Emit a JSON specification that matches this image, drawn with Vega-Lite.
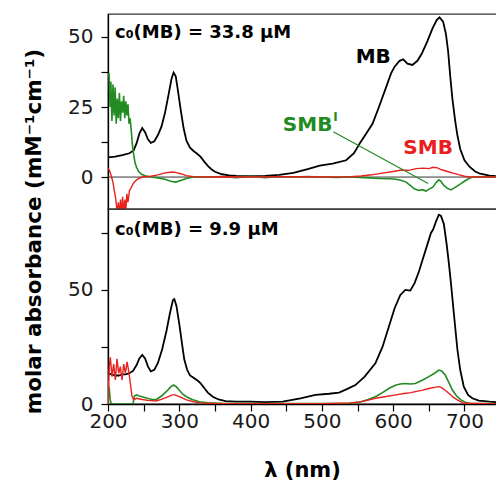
{
  "$schema": "https://vega.github.io/schema/vega-lite/v6.json",
  "autosize": "none",
  "padding": {"left": 108, "top": 14, "right": 388, "bottom": 468},
  "background": "white",
  "spacing": 0,
  "bounds": "flush",
  "config": {
    "view": {"stroke": "#333333", "strokeWidth": 1.3},
    "axis": {
      "domainColor": "#000000", "domainWidth": 1.3, "tickColor": "#000000", "tickWidth": 1.2,
      "labelFont": "DejaVu Sans", "labelFontSize": 20, "labelColor": "#1a1a1a",
      "titleFont": "DejaVu Sans", "titleFontWeight": "bold", "titleColor": "#000000", "grid": false
    }
  },
  "datasets": {
    "top": [
      {"wl":200,"v":7.0,"s":"MB"},{"wl":210,"v":7.3,"s":"MB"},{"wl":220,"v":7.8,"s":"MB"},{"wl":230,"v":8.5,"s":"MB"},{"wl":236,"v":9.5,"s":"MB"},{"wl":240,"v":12,"s":"MB"},{"wl":244,"v":15.5,"s":"MB"},{"wl":248,"v":17.5,"s":"MB"},{"wl":252,"v":16,"s":"MB"},{"wl":256,"v":13.5,"s":"MB"},{"wl":260,"v":12.2,"s":"MB"},{"wl":265,"v":12.8,"s":"MB"},{"wl":270,"v":15,"s":"MB"},{"wl":275,"v":18,"s":"MB"},{"wl":280,"v":23,"s":"MB"},{"wl":285,"v":29.5,"s":"MB"},{"wl":289,"v":35,"s":"MB"},{"wl":292,"v":37.3,"s":"MB"},{"wl":295,"v":36,"s":"MB"},{"wl":298,"v":31,"s":"MB"},{"wl":302,"v":24,"s":"MB"},{"wl":306,"v":17.5,"s":"MB"},{"wl":310,"v":13,"s":"MB"},{"wl":315,"v":10.5,"s":"MB"},{"wl":320,"v":9.3,"s":"MB"},{"wl":325,"v":8.3,"s":"MB"},{"wl":330,"v":7.2,"s":"MB"},{"wl":335,"v":5.5,"s":"MB"},{"wl":340,"v":4,"s":"MB"},{"wl":345,"v":2.8,"s":"MB"},{"wl":350,"v":1.9,"s":"MB"},{"wl":360,"v":1,"s":"MB"},{"wl":370,"v":0.6,"s":"MB"},{"wl":380,"v":0.4,"s":"MB"},{"wl":400,"v":0.3,"s":"MB"},{"wl":420,"v":0.4,"s":"MB"},{"wl":440,"v":0.8,"s":"MB"},{"wl":460,"v":1.5,"s":"MB"},{"wl":480,"v":2.8,"s":"MB"},{"wl":497,"v":4.1,"s":"MB"},{"wl":515,"v":4.8,"s":"MB"},{"wl":534,"v":6,"s":"MB"},{"wl":545,"v":8.5,"s":"MB"},{"wl":553,"v":12,"s":"MB"},{"wl":562,"v":15.5,"s":"MB"},{"wl":571,"v":19,"s":"MB"},{"wl":580,"v":25,"s":"MB"},{"wl":590,"v":32,"s":"MB"},{"wl":597,"v":37,"s":"MB"},{"wl":602,"v":39.4,"s":"MB"},{"wl":609,"v":41.5,"s":"MB"},{"wl":614,"v":42,"s":"MB"},{"wl":620,"v":40.5,"s":"MB"},{"wl":627,"v":40,"s":"MB"},{"wl":634,"v":41.5,"s":"MB"},{"wl":640,"v":44,"s":"MB"},{"wl":648,"v":48.5,"s":"MB"},{"wl":655,"v":53,"s":"MB"},{"wl":661,"v":56,"s":"MB"},{"wl":665,"v":57,"s":"MB"},{"wl":670,"v":55.5,"s":"MB"},{"wl":674,"v":51,"s":"MB"},{"wl":677,"v":45,"s":"MB"},{"wl":680,"v":36,"s":"MB"},{"wl":683,"v":28,"s":"MB"},{"wl":687,"v":20,"s":"MB"},{"wl":690,"v":15,"s":"MB"},{"wl":694,"v":10,"s":"MB"},{"wl":700,"v":6,"s":"MB"},{"wl":707,"v":3.7,"s":"MB"},{"wl":715,"v":2,"s":"MB"},{"wl":722,"v":1.2,"s":"MB"},{"wl":735,"v":0.5,"s":"MB"},{"wl":747,"v":0.3,"s":"MB"},

      {"wl":200,"v":36,"s":"SMBI"},{"wl":201.5,"v":37,"s":"SMBI"},{"wl":203,"v":25,"s":"SMBI"},{"wl":204,"v":34,"s":"SMBI"},{"wl":205.5,"v":20,"s":"SMBI"},{"wl":207,"v":33,"s":"SMBI"},{"wl":208.5,"v":22,"s":"SMBI"},{"wl":210,"v":32,"s":"SMBI"},{"wl":211.5,"v":19,"s":"SMBI"},{"wl":213,"v":28,"s":"SMBI"},{"wl":214.5,"v":21,"s":"SMBI"},{"wl":216,"v":30,"s":"SMBI"},{"wl":217.5,"v":20,"s":"SMBI"},{"wl":219,"v":27,"s":"SMBI"},{"wl":220.5,"v":23,"s":"SMBI"},{"wl":222,"v":29,"s":"SMBI"},{"wl":223.5,"v":21,"s":"SMBI"},{"wl":225,"v":27,"s":"SMBI"},{"wl":226.5,"v":22,"s":"SMBI"},{"wl":228,"v":26,"s":"SMBI"},{"wl":229.5,"v":19,"s":"SMBI"},{"wl":231,"v":21,"s":"SMBI"},{"wl":232.5,"v":17,"s":"SMBI"},{"wl":234,"v":12,"s":"SMBI"},{"wl":236,"v":8,"s":"SMBI"},{"wl":238,"v":5,"s":"SMBI"},{"wl":240,"v":3.5,"s":"SMBI"},{"wl":243,"v":2,"s":"SMBI"},{"wl":247,"v":1,"s":"SMBI"},{"wl":252,"v":0.5,"s":"SMBI"},{"wl":260,"v":0,"s":"SMBI"},{"wl":270,"v":-0.3,"s":"SMBI"},{"wl":280,"v":-0.8,"s":"SMBI"},{"wl":288,"v":-1.5,"s":"SMBI"},{"wl":295,"v":-1.8,"s":"SMBI"},{"wl":302,"v":-1.2,"s":"SMBI"},{"wl":310,"v":-0.5,"s":"SMBI"},{"wl":320,"v":0,"s":"SMBI"},{"wl":340,"v":0,"s":"SMBI"},{"wl":360,"v":0.2,"s":"SMBI"},{"wl":380,"v":-0.2,"s":"SMBI"},{"wl":400,"v":0.3,"s":"SMBI"},{"wl":420,"v":-0.2,"s":"SMBI"},{"wl":440,"v":0.2,"s":"SMBI"},{"wl":460,"v":0,"s":"SMBI"},{"wl":480,"v":0.2,"s":"SMBI"},{"wl":500,"v":0,"s":"SMBI"},{"wl":520,"v":-0.1,"s":"SMBI"},{"wl":540,"v":0,"s":"SMBI"},{"wl":560,"v":-0.2,"s":"SMBI"},{"wl":580,"v":-0.5,"s":"SMBI"},{"wl":595,"v":-0.6,"s":"SMBI"},{"wl":604,"v":-0.8,"s":"SMBI"},{"wl":612,"v":-1.2,"s":"SMBI"},{"wl":618,"v":-1.8,"s":"SMBI"},{"wl":624,"v":-3,"s":"SMBI"},{"wl":630,"v":-4.3,"s":"SMBI"},{"wl":636,"v":-4.8,"s":"SMBI"},{"wl":641,"v":-4.5,"s":"SMBI"},{"wl":646,"v":-5,"s":"SMBI"},{"wl":651,"v":-4.2,"s":"SMBI"},{"wl":656,"v":-3.5,"s":"SMBI"},{"wl":660,"v":-2,"s":"SMBI"},{"wl":664,"v":-1,"s":"SMBI"},{"wl":667,"v":-1.5,"s":"SMBI"},{"wl":671,"v":-3,"s":"SMBI"},{"wl":676,"v":-4,"s":"SMBI"},{"wl":681,"v":-4.6,"s":"SMBI"},{"wl":688,"v":-3.5,"s":"SMBI"},{"wl":694,"v":-2.5,"s":"SMBI"},{"wl":700,"v":-1.5,"s":"SMBI"},{"wl":706,"v":-0.5,"s":"SMBI"},{"wl":712,"v":0,"s":"SMBI"},{"wl":730,"v":0,"s":"SMBI"},{"wl":747,"v":0,"s":"SMBI"},

      {"wl":200,"v":3,"s":"SMB"},{"wl":202,"v":2.5,"s":"SMB"},{"wl":205,"v":0,"s":"SMB"},{"wl":207,"v":-2,"s":"SMB"},{"wl":209,"v":-5,"s":"SMB"},{"wl":211,"v":-8,"s":"SMB"},{"wl":213,"v":-13,"s":"SMB"},{"wl":214.5,"v":-9,"s":"SMB"},{"wl":216,"v":-14,"s":"SMB"},{"wl":217.5,"v":-8,"s":"SMB"},{"wl":219,"v":-13,"s":"SMB"},{"wl":220.5,"v":-7,"s":"SMB"},{"wl":222,"v":-14,"s":"SMB"},{"wl":223.5,"v":-8,"s":"SMB"},{"wl":225,"v":-12,"s":"SMB"},{"wl":226.5,"v":-6,"s":"SMB"},{"wl":228,"v":-9,"s":"SMB"},{"wl":230,"v":-5,"s":"SMB"},{"wl":232,"v":-4,"s":"SMB"},{"wl":235,"v":-2.5,"s":"SMB"},{"wl":238,"v":-1.5,"s":"SMB"},{"wl":242,"v":-0.6,"s":"SMB"},{"wl":248,"v":0,"s":"SMB"},{"wl":260,"v":0.3,"s":"SMB"},{"wl":270,"v":0.8,"s":"SMB"},{"wl":280,"v":1.5,"s":"SMB"},{"wl":290,"v":1.8,"s":"SMB"},{"wl":296,"v":1.6,"s":"SMB"},{"wl":302,"v":1.2,"s":"SMB"},{"wl":310,"v":0.5,"s":"SMB"},{"wl":320,"v":0.1,"s":"SMB"},{"wl":340,"v":0,"s":"SMB"},{"wl":360,"v":0.1,"s":"SMB"},{"wl":400,"v":0,"s":"SMB"},{"wl":450,"v":0.1,"s":"SMB"},{"wl":500,"v":0,"s":"SMB"},{"wl":540,"v":0.1,"s":"SMB"},{"wl":555,"v":0.4,"s":"SMB"},{"wl":570,"v":0.8,"s":"SMB"},{"wl":585,"v":1.4,"s":"SMB"},{"wl":600,"v":2,"s":"SMB"},{"wl":612,"v":2.5,"s":"SMB"},{"wl":622,"v":2.4,"s":"SMB"},{"wl":632,"v":3,"s":"SMB"},{"wl":642,"v":3.2,"s":"SMB"},{"wl":650,"v":3.0,"s":"SMB"},{"wl":656,"v":3.5,"s":"SMB"},{"wl":662,"v":3.3,"s":"SMB"},{"wl":668,"v":2.6,"s":"SMB"},{"wl":676,"v":2,"s":"SMB"},{"wl":685,"v":1.3,"s":"SMB"},{"wl":693,"v":0.8,"s":"SMB"},{"wl":700,"v":0.3,"s":"SMB"},{"wl":708,"v":0,"s":"SMB"},{"wl":747,"v":0,"s":"SMB"}
    ],
    "bot": [
      {"wl":200,"v":13.5,"s":"MB"},{"wl":205,"v":13,"s":"MB"},{"wl":210,"v":12.5,"s":"MB"},{"wl":215,"v":12.5,"s":"MB"},{"wl":220,"v":13,"s":"MB"},{"wl":225,"v":13,"s":"MB"},{"wl":230,"v":13.5,"s":"MB"},{"wl":235,"v":14.5,"s":"MB"},{"wl":240,"v":17,"s":"MB"},{"wl":244,"v":20,"s":"MB"},{"wl":248,"v":21.5,"s":"MB"},{"wl":252,"v":20,"s":"MB"},{"wl":256,"v":16.5,"s":"MB"},{"wl":260,"v":14.3,"s":"MB"},{"wl":265,"v":15,"s":"MB"},{"wl":270,"v":18,"s":"MB"},{"wl":276,"v":24,"s":"MB"},{"wl":282,"v":32,"s":"MB"},{"wl":287,"v":40,"s":"MB"},{"wl":291,"v":45.5,"s":"MB"},{"wl":293,"v":46,"s":"MB"},{"wl":296,"v":43,"s":"MB"},{"wl":300,"v":35,"s":"MB"},{"wl":304,"v":26,"s":"MB"},{"wl":307,"v":19.5,"s":"MB"},{"wl":311,"v":15,"s":"MB"},{"wl":315,"v":12.5,"s":"MB"},{"wl":320,"v":11.5,"s":"MB"},{"wl":326,"v":10.2,"s":"MB"},{"wl":330,"v":9,"s":"MB"},{"wl":335,"v":7,"s":"MB"},{"wl":340,"v":5,"s":"MB"},{"wl":347,"v":3.2,"s":"MB"},{"wl":355,"v":2,"s":"MB"},{"wl":365,"v":1.3,"s":"MB"},{"wl":380,"v":1,"s":"MB"},{"wl":400,"v":1,"s":"MB"},{"wl":420,"v":0.8,"s":"MB"},{"wl":445,"v":1,"s":"MB"},{"wl":470,"v":2.5,"s":"MB"},{"wl":491,"v":4,"s":"MB"},{"wl":510,"v":4.5,"s":"MB"},{"wl":524,"v":5,"s":"MB"},{"wl":535,"v":6.5,"s":"MB"},{"wl":547,"v":8.3,"s":"MB"},{"wl":560,"v":12,"s":"MB"},{"wl":575,"v":17.8,"s":"MB"},{"wl":585,"v":25,"s":"MB"},{"wl":594,"v":34,"s":"MB"},{"wl":602,"v":42,"s":"MB"},{"wl":610,"v":47.8,"s":"MB"},{"wl":617,"v":50,"s":"MB"},{"wl":624,"v":49.7,"s":"MB"},{"wl":630,"v":53,"s":"MB"},{"wl":636,"v":58,"s":"MB"},{"wl":641,"v":63,"s":"MB"},{"wl":647,"v":69,"s":"MB"},{"wl":653,"v":75,"s":"MB"},{"wl":656,"v":76.5,"s":"MB"},{"wl":660,"v":80,"s":"MB"},{"wl":664,"v":83,"s":"MB"},{"wl":667,"v":82.5,"s":"MB"},{"wl":671,"v":79,"s":"MB"},{"wl":675,"v":70,"s":"MB"},{"wl":678,"v":62,"s":"MB"},{"wl":681,"v":53,"s":"MB"},{"wl":685,"v":40,"s":"MB"},{"wl":690,"v":24,"s":"MB"},{"wl":694,"v":15,"s":"MB"},{"wl":699,"v":7.6,"s":"MB"},{"wl":705,"v":4,"s":"MB"},{"wl":711,"v":2.5,"s":"MB"},{"wl":720,"v":1.5,"s":"MB"},{"wl":735,"v":1,"s":"MB"},{"wl":747,"v":0.8,"s":"MB"},

      {"wl":200,"v":0,"s":"SMBI"},{"wl":201,"v":8,"s":"SMBI"},{"wl":202,"v":6,"s":"SMBI"},{"wl":203,"v":2,"s":"SMBI"},{"wl":204.5,"v":0,"s":"SMBI"},{"wl":220,"v":0,"s":"SMBI"},{"wl":235,"v":0,"s":"SMBI"},{"wl":237,"v":3.5,"s":"SMBI"},{"wl":240,"v":4,"s":"SMBI"},{"wl":244,"v":3.5,"s":"SMBI"},{"wl":248,"v":3.2,"s":"SMBI"},{"wl":255,"v":2.5,"s":"SMBI"},{"wl":262,"v":2,"s":"SMBI"},{"wl":268,"v":2,"s":"SMBI"},{"wl":275,"v":3.5,"s":"SMBI"},{"wl":282,"v":5.5,"s":"SMBI"},{"wl":288,"v":7.5,"s":"SMBI"},{"wl":292,"v":8.3,"s":"SMBI"},{"wl":296,"v":7.5,"s":"SMBI"},{"wl":300,"v":6,"s":"SMBI"},{"wl":305,"v":4.3,"s":"SMBI"},{"wl":310,"v":3.2,"s":"SMBI"},{"wl":318,"v":2,"s":"SMBI"},{"wl":328,"v":1,"s":"SMBI"},{"wl":340,"v":0.5,"s":"SMBI"},{"wl":360,"v":0.3,"s":"SMBI"},{"wl":400,"v":0.2,"s":"SMBI"},{"wl":450,"v":0.2,"s":"SMBI"},{"wl":500,"v":0.2,"s":"SMBI"},{"wl":538,"v":0.3,"s":"SMBI"},{"wl":555,"v":1,"s":"SMBI"},{"wl":565,"v":2,"s":"SMBI"},{"wl":575,"v":3.2,"s":"SMBI"},{"wl":585,"v":5,"s":"SMBI"},{"wl":595,"v":7,"s":"SMBI"},{"wl":604,"v":8.3,"s":"SMBI"},{"wl":610,"v":8.8,"s":"SMBI"},{"wl":617,"v":9,"s":"SMBI"},{"wl":624,"v":8.8,"s":"SMBI"},{"wl":631,"v":9,"s":"SMBI"},{"wl":640,"v":10.3,"s":"SMBI"},{"wl":650,"v":12,"s":"SMBI"},{"wl":658,"v":13.5,"s":"SMBI"},{"wl":664,"v":14.9,"s":"SMBI"},{"wl":668,"v":14.5,"s":"SMBI"},{"wl":673,"v":12.7,"s":"SMBI"},{"wl":678,"v":9.5,"s":"SMBI"},{"wl":683,"v":6.1,"s":"SMBI"},{"wl":689,"v":3.5,"s":"SMBI"},{"wl":695,"v":1.8,"s":"SMBI"},{"wl":701,"v":0.8,"s":"SMBI"},{"wl":706,"v":0.3,"s":"SMBI"},{"wl":747,"v":0.1,"s":"SMBI"},

      {"wl":200,"v":0,"s":"SMB"},{"wl":201,"v":10,"s":"SMB"},{"wl":202,"v":17,"s":"SMB"},{"wl":203.3,"v":20.5,"s":"SMB"},{"wl":205.6,"v":12,"s":"SMB"},{"wl":208,"v":17.5,"s":"SMB"},{"wl":210.3,"v":10.5,"s":"SMB"},{"wl":212.6,"v":19.8,"s":"SMB"},{"wl":215,"v":13.5,"s":"SMB"},{"wl":217.3,"v":16.4,"s":"SMB"},{"wl":219.7,"v":10.5,"s":"SMB"},{"wl":222,"v":17.5,"s":"SMB"},{"wl":224.4,"v":13.5,"s":"SMB"},{"wl":226.7,"v":18.5,"s":"SMB"},{"wl":229,"v":14.5,"s":"SMB"},{"wl":231.4,"v":9,"s":"SMB"},{"wl":233.7,"v":3.3,"s":"SMB"},{"wl":236,"v":1.8,"s":"SMB"},{"wl":240,"v":2.5,"s":"SMB"},{"wl":248,"v":2,"s":"SMB"},{"wl":256,"v":1.6,"s":"SMB"},{"wl":267,"v":1.3,"s":"SMB"},{"wl":275,"v":2,"s":"SMB"},{"wl":283,"v":3,"s":"SMB"},{"wl":290,"v":4,"s":"SMB"},{"wl":294,"v":4,"s":"SMB"},{"wl":300,"v":3.2,"s":"SMB"},{"wl":310,"v":1.8,"s":"SMB"},{"wl":320,"v":1,"s":"SMB"},{"wl":330,"v":0.5,"s":"SMB"},{"wl":350,"v":0.2,"s":"SMB"},{"wl":400,"v":0.1,"s":"SMB"},{"wl":500,"v":0.1,"s":"SMB"},{"wl":540,"v":0.5,"s":"SMB"},{"wl":552,"v":0.8,"s":"SMB"},{"wl":565,"v":1.7,"s":"SMB"},{"wl":575,"v":2.5,"s":"SMB"},{"wl":590,"v":3.3,"s":"SMB"},{"wl":604,"v":4,"s":"SMB"},{"wl":615,"v":4.6,"s":"SMB"},{"wl":625,"v":5,"s":"SMB"},{"wl":631,"v":5.4,"s":"SMB"},{"wl":640,"v":6,"s":"SMB"},{"wl":650,"v":6.8,"s":"SMB"},{"wl":658,"v":7.3,"s":"SMB"},{"wl":664,"v":7.6,"s":"SMB"},{"wl":668,"v":7.2,"s":"SMB"},{"wl":673,"v":6,"s":"SMB"},{"wl":678,"v":4.7,"s":"SMB"},{"wl":684,"v":3,"s":"SMB"},{"wl":690,"v":1.8,"s":"SMB"},{"wl":695,"v":0.9,"s":"SMB"},{"wl":699,"v":0.3,"s":"SMB"},{"wl":747,"v":0,"s":"SMB"}
    ]
  },
  "resolve": {"scale": {"x": "independent", "y": "independent", "color": "shared"}},
  "vconcat": [
    {
      "width": 390, "height": 195,
      "encoding": {
        "x": {"field": "wl", "type": "quantitative", "scale": {"domain": [200, 747], "nice": false, "zero": false}, "axis": null},
        "y": {"field": "v", "type": "quantitative", "scale": {"domain": [-11.4, 58.2], "nice": false, "zero": false},
          "axis": {"title": null, "values": [0, 12.5, 25, 37.5, 50], "labelExpr": "datum.value % 25 === 0 ? datum.label : ''",
            "tickSize": 7, "labelPadding": 8, "labelBaseline": "middle",
            "encode": {"ticks": {"update": {"x2": {"signal": "datum.value % 25 === 0 ? -7 : -4"}}}}}}
      },
      "layer": [
        {"data": {"values": [{"v": 0}]}, "mark": {"type": "rule", "color": "#333333", "strokeWidth": 1}, "encoding": {"x": null}},
        {"data": {"name": "top"}, "mark": {"type": "line", "clip": true},
          "encoding": {
            "color": {"field": "s", "type": "nominal", "scale": {"domain": ["MB", "SMBI", "SMB"], "range": ["#000000", "#228b22", "#e8201e"]}, "legend": null},
            "strokeWidth": {"field": "s", "type": "nominal", "scale": {"domain": ["MB", "SMBI", "SMB"], "range": [1.8, 1.4, 1.4]}, "legend": null}
          }},
        {"data": {"values": [{"wl": 516, "v": 16.2, "wl2": 649, "v2": -2.3}]}, "mark": {"type": "rule", "color": "#228b22", "strokeWidth": 1.2},
          "encoding": {"x2": {"field": "wl2"}, "y2": {"field": "v2"}}},
        {"data": {"values": [{"wl": 209.8, "v": 51.4, "t": "c₀(MB) = 33.8 μM"}]},
          "mark": {"type": "text", "align": "left", "baseline": "middle", "font": "DejaVu Sans", "fontWeight": "bold", "fontSize": 18, "color": "#000000"},
          "encoding": {"text": {"field": "t"}}},
        {"data": {"values": [{"wl": 572, "v": 43, "t": "MB", "s": "MB"}, {"wl": 480, "v": 18.6, "t": "SMB", "s": "SMBI"}, {"wl": 649, "v": 10.2, "t": "SMB", "s": "SMB"}]},
          "mark": {"type": "text", "align": "center", "baseline": "middle", "font": "DejaVu Sans", "fontWeight": "bold", "fontSize": 20},
          "encoding": {"text": {"field": "t"}, "color": {"field": "s", "type": "nominal", "legend": null}}},
        {"data": {"values": [{"wl": 519, "v": 21.3, "t": "I", "s": "SMBI"}]},
          "mark": {"type": "text", "align": "center", "baseline": "middle", "font": "DejaVu Sans", "fontWeight": "bold", "fontSize": 12},
          "encoding": {"text": {"field": "t"}, "color": {"field": "s", "type": "nominal", "legend": null}}}
      ]
    },
    {
      "width": 390, "height": 195,
      "encoding": {
        "x": {"field": "wl", "type": "quantitative", "scale": {"domain": [200, 747], "nice": false, "zero": false},
          "axis": {"title": "λ (nm)", "titleFontSize": 21, "titleX": 194, "titleY": 72, "titleBaseline": "alphabetic",
            "values": [200, 250, 300, 350, 400, 450, 500, 550, 600, 650, 700, 750], "labelExpr": "datum.value % 100 === 0 ? datum.label : ''",
            "tickSize": 7, "labelPadding": 0, "labelFlush": false,
            "encode": {"ticks": {"update": {"y2": {"signal": "datum.value % 100 === 0 ? 7 : 4"}}}}}},
        "y": {"field": "v", "type": "quantitative", "scale": {"domain": [0, 85.5], "nice": false, "zero": false},
          "axis": {"title": "molar absorbance (mM⁻¹cm⁻¹)", "titleFontSize": 21.5, "titleX": -68, "titleY": 22, "titleBaseline": "alphabetic", "titleAngle": 270, "titleAlign": "center",
            "values": [0, 25, 50, 75], "labelExpr": "datum.value % 50 === 0 ? datum.label : ''",
            "tickSize": 7, "labelPadding": 8, "labelBaseline": "middle",
            "encode": {"ticks": {"update": {"x2": {"signal": "datum.value % 50 === 0 ? -7 : -4"}}}}}}
      },
      "layer": [
        {"data": {"name": "bot"}, "mark": {"type": "line", "clip": true},
          "encoding": {
            "color": {"field": "s", "type": "nominal", "legend": null},
            "strokeWidth": {"field": "s", "type": "nominal", "scale": {"domain": ["MB", "SMBI", "SMB"], "range": [1.8, 1.4, 1.4]}, "legend": null}
          }},
        {"data": {"values": [{"wl": 209.8, "v": 76.3, "t": "c₀(MB) = 9.9 μM"}]},
          "mark": {"type": "text", "align": "left", "baseline": "middle", "font": "DejaVu Sans", "fontWeight": "bold", "fontSize": 18, "color": "#000000"},
          "encoding": {"text": {"field": "t"}}}
      ]
    }
  ]
}
